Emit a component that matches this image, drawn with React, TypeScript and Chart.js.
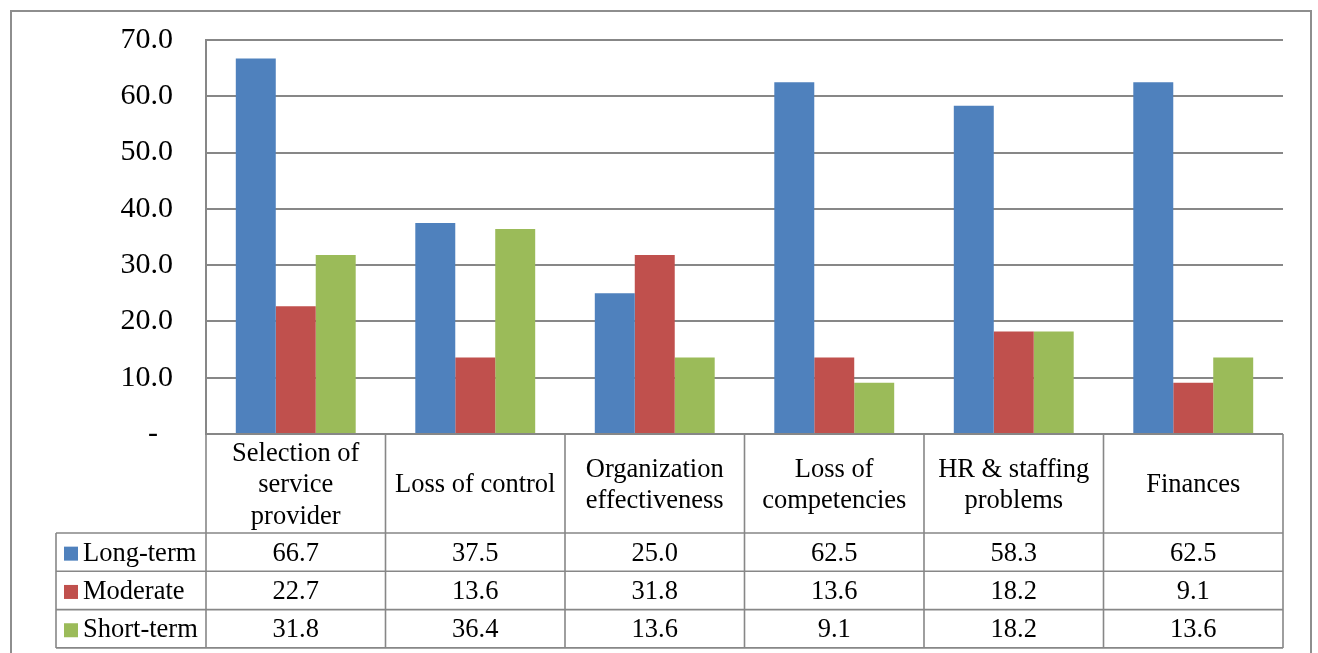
import React, { useEffect, useRef } from "react";
import { Chart, registerables } from "chart.js";

Chart.register(...registerables);

const categories: string[][] = [
  ["Selection of", "service", "provider"],
  ["Loss of control"],
  ["Organization", "effectiveness"],
  ["Loss of", "competencies"],
  ["HR & staffing", "problems"],
  ["Finances"],
];
const seriesNames = ["Long-term", "Moderate", "Short-term"];
const seriesColors = ["#4F81BD", "#C0504D", "#9BBB59"];
const longTerm = [66.7, 37.5, 25.0, 62.5, 58.3, 62.5];
const moderate = [22.7, 13.6, 31.8, 13.6, 18.2, 9.1];
const shortTerm = [31.8, 36.4, 13.6, 9.1, 18.2, 13.6];
const yTicks = [0, 10, 20, 30, 40, 50, 60, 70];

const FONT = "'Liberation Serif', 'Times New Roman', serif";
const LINE = "#878787";

// Draws the data table under the plot plus the outer chart frame.
const dataTablePlugin = {
  id: "dataTable",
  afterDraw(chart: any) {
    const ctx: CanvasRenderingContext2D = chart.ctx;
    const { left, right, bottom } = chart.chartArea;
    const colW = (right - left) / categories.length;
    const headerBottom = bottom + 99;
    const rowH = 38.3;
    const tableBottom = headerBottom + rowH * 3;
    const legendLeft = 56;
    const series = [longTerm, moderate, shortTerm];

    ctx.save();
    ctx.strokeStyle = LINE;
    ctx.lineWidth = 1.6;
    ctx.beginPath();
    for (let i = 0; i <= categories.length; i++) {
      const x = left + i * colW;
      ctx.moveTo(x, bottom);
      ctx.lineTo(x, tableBottom);
    }
    for (let r = 0; r <= 3; r++) {
      const y = headerBottom + r * rowH;
      ctx.moveTo(legendLeft, y);
      ctx.lineTo(right, y);
    }
    ctx.moveTo(legendLeft, headerBottom);
    ctx.lineTo(legendLeft, tableBottom);
    ctx.stroke();

    ctx.fillStyle = "#000";
    ctx.font = `26.5px ${FONT}`;
    ctx.textAlign = "center";
    ctx.textBaseline = "middle";
    const lh = 31.5;
    categories.forEach((lines, i) => {
      const cx = left + (i + 0.5) * colW;
      const cy = (bottom + headerBottom) / 2 + 2;
      const y0 = cy - ((lines.length - 1) * lh) / 2;
      lines.forEach((t, k) => ctx.fillText(t, cx, y0 + k * lh));
    });

    series.forEach((vals, r) => {
      const cy = headerBottom + (r + 0.5) * rowH + 1.5;
      ctx.fillStyle = seriesColors[r];
      ctx.fillRect(64, cy - 7, 14, 14);
      ctx.fillStyle = "#000";
      ctx.textAlign = "left";
      ctx.fillText(seriesNames[r], 83, cy);
      ctx.textAlign = "center";
      vals.forEach((v, i) => {
        ctx.fillText(v.toFixed(1), left + (i + 0.5) * colW, cy);
      });
    });

    // outer frame
    ctx.strokeStyle = "#8e8e8e";
    ctx.lineWidth = 2;
    ctx.beginPath();
    ctx.moveTo(11, 660);
    ctx.lineTo(11, 11);
    ctx.lineTo(1311, 11);
    ctx.lineTo(1311, 660);
    ctx.stroke();
    ctx.restore();
  },
};

export default function App() {
  const ref = useRef<HTMLCanvasElement>(null);

  useEffect(() => {
    if (!ref.current) return;
    const chart = new Chart(ref.current, {
      type: "bar",
      data: {
        labels: categories.map((c) => c.join(" ")),
        datasets: [longTerm, moderate, shortTerm].map((d, i) => ({
          label: seriesNames[i],
          data: d,
          backgroundColor: seriesColors[i],
          borderWidth: 0,
          barPercentage: 1,
          categoryPercentage: 0.668,
        })),
      },
      options: {
        animation: false,
        responsive: false,
        maintainAspectRatio: false,
        layout: { padding: { left: 0, top: 40, right: 35, bottom: 219 } },
        plugins: { legend: { display: false }, tooltip: { enabled: false } },
        scales: {
          x: { display: false },
          y: {
            min: 0,
            max: 70,
            afterFit: (s: any) => {
              s.width = 206;
              s.paddingTop = 0;
              s.paddingBottom = 0;
            },
            afterBuildTicks: (s: any) => {
              s.ticks = yTicks.map((v) => ({ value: v }));
            },
            ticks: {
              padding: 33,
              color: "#000",
              font: { family: FONT, size: 30 },
              callback: (v: any) => (Number(v) === 0 ? "-  " : Number(v).toFixed(1)),
            },
            grid: { color: LINE, lineWidth: 2, drawTicks: false },
            border: { display: true, color: LINE, width: 2 },
          },
        },
      },
      plugins: [dataTablePlugin],
    });
    return () => chart.destroy();
  }, []);

  return (
    <div style={{ position: "fixed", left: 0, top: 0, width: 1318, height: 653, background: "#fff" }}>
      <canvas ref={ref} width={1318} height={653} />
    </div>
  );
}
